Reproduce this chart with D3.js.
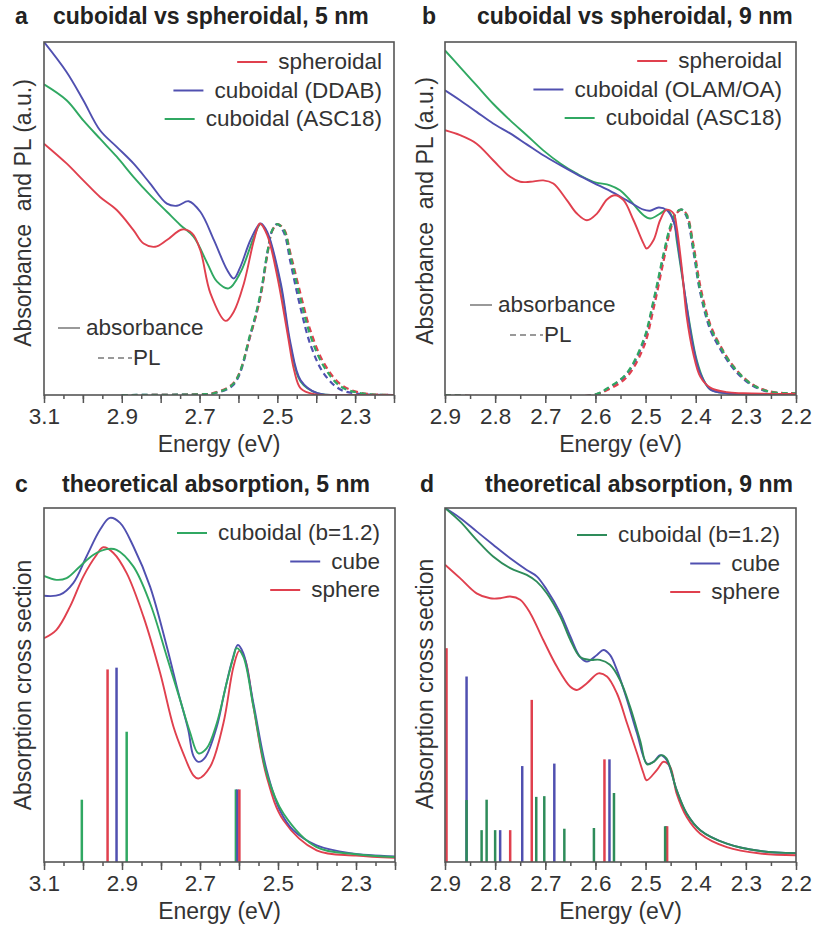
<!DOCTYPE html>
<html>
<head>
<meta charset="utf-8">
<script src="https://cdn.jsdelivr.net/npm/d3@7"></script>
<style>
  body { margin: 0; background: #fff; }
  svg { font-family: "Liberation Sans", Arial, sans-serif; }
</style>
</head>
<body>
<svg id="drawing_region" width="821" height="936"></svg>
<script>
// all series are [energy (eV), intensity (a.u., 0..1 of the frame)]

// ---- a : cuboidal vs spheroidal, 5 nm
const aAbsSpheroidal = [[3.100,0.712],[3.042,0.656],[2.999,0.608],[2.956,0.561],[2.913,0.524],[2.870,0.467],[2.844,0.429],[2.814,0.420],[2.784,0.439],[2.745,0.469],[2.719,0.458],[2.698,0.410],[2.672,0.288],[2.633,0.210],[2.612,0.236],[2.586,0.316],[2.560,0.439],[2.545,0.486],[2.526,0.453],[2.500,0.335],[2.474,0.175],[2.457,0.071],[2.440,0.019],[2.405,0.002],[2.300,0],[2.200,0]];
const aAbsDDAB = [[3.100,1.000],[3.042,0.915],[2.999,0.835],[2.956,0.750],[2.913,0.703],[2.870,0.656],[2.827,0.599],[2.784,0.542],[2.758,0.536],[2.728,0.549],[2.698,0.519],[2.663,0.439],[2.629,0.354],[2.612,0.330],[2.595,0.363],[2.569,0.439],[2.543,0.486],[2.526,0.462],[2.491,0.316],[2.466,0.146],[2.440,0.042],[2.397,0.005],[2.300,0],[2.200,0]];
const aAbsASC18 = [[3.100,0.880],[3.042,0.835],[2.999,0.778],[2.956,0.726],[2.913,0.675],[2.870,0.618],[2.827,0.566],[2.784,0.519],[2.749,0.481],[2.715,0.448],[2.680,0.373],[2.655,0.321],[2.625,0.302],[2.594,0.349],[2.560,0.448],[2.543,0.484],[2.526,0.458],[2.491,0.307],[2.466,0.137],[2.440,0.038],[2.397,0.005],[2.300,0],[2.200,0]];
const aPLSpheroidal = [[2.90,0],[2.70,0.002],[2.663,0.006],[2.612,0.035],[2.569,0.170],[2.543,0.280],[2.526,0.395],[2.513,0.465],[2.500,0.484],[2.483,0.470],[2.466,0.400],[2.440,0.285],[2.414,0.180],[2.380,0.090],[2.337,0.030],[2.285,0.006],[2.20,0]];
const aPLDDAB = [[2.90,0],[2.70,0.002],[2.663,0.005],[2.612,0.030],[2.569,0.170],[2.543,0.285],[2.526,0.400],[2.513,0.467],[2.500,0.484],[2.483,0.460],[2.466,0.375],[2.440,0.245],[2.414,0.140],[2.380,0.060],[2.337,0.015],[2.285,0.003],[2.20,0]];
const aPLASC18 = [[2.90,0],[2.70,0.002],[2.663,0.005],[2.612,0.033],[2.569,0.175],[2.543,0.288],[2.526,0.401],[2.513,0.467],[2.500,0.484],[2.483,0.467],[2.466,0.392],[2.440,0.269],[2.414,0.165],[2.380,0.080],[2.337,0.024],[2.285,0.005],[2.20,0]];
const aTickLabels = [3.1, 2.9, 2.7, 2.5, 2.3];

// ---- b : cuboidal vs spheroidal, 9 nm
const bAbsSpheroidal = [[2.900,0.750],[2.870,0.736],[2.837,0.712],[2.804,0.665],[2.770,0.618],[2.750,0.604],[2.730,0.604],[2.704,0.608],[2.684,0.599],[2.657,0.552],[2.637,0.514],[2.617,0.495],[2.597,0.514],[2.577,0.554],[2.561,0.566],[2.544,0.552],[2.524,0.495],[2.504,0.429],[2.498,0.415],[2.484,0.439],[2.471,0.495],[2.458,0.525],[2.444,0.514],[2.438,0.476],[2.428,0.363],[2.418,0.222],[2.405,0.118],[2.391,0.052],[2.371,0.021],[2.338,0.008],[2.305,0.005],[2.200,0.003]];
const bAbsOLAM = [[2.900,0.863],[2.870,0.835],[2.837,0.802],[2.804,0.769],[2.770,0.741],[2.737,0.710],[2.704,0.679],[2.670,0.651],[2.637,0.625],[2.604,0.601],[2.571,0.578],[2.538,0.552],[2.504,0.525],[2.491,0.522],[2.474,0.531],[2.458,0.524],[2.444,0.491],[2.431,0.382],[2.418,0.250],[2.405,0.137],[2.391,0.061],[2.371,0.016],[2.338,0.005],[2.270,0],[2.200,0]];
const bAbsASC18 = [[2.900,0.976],[2.870,0.929],[2.837,0.877],[2.804,0.825],[2.770,0.778],[2.737,0.736],[2.704,0.693],[2.670,0.656],[2.637,0.627],[2.604,0.604],[2.571,0.594],[2.551,0.580],[2.531,0.552],[2.504,0.509],[2.491,0.500],[2.471,0.514],[2.458,0.525],[2.444,0.495],[2.438,0.439],[2.424,0.307],[2.411,0.193],[2.398,0.099],[2.384,0.042],[2.371,0.016],[2.338,0.005],[2.270,0],[2.200,0]];
const bPLSpheroidal = [[2.90,0],[2.604,0],[2.571,0.018],[2.538,0.050],[2.504,0.135],[2.484,0.245],[2.464,0.380],[2.451,0.465],[2.438,0.515],[2.428,0.525],[2.418,0.512],[2.405,0.430],[2.391,0.310],[2.371,0.200],[2.351,0.140],[2.325,0.082],[2.291,0.034],[2.252,0.010],[2.20,0.005]];
const bPLOLAM = [[2.90,0],[2.604,0],[2.571,0.022],[2.538,0.058],[2.504,0.150],[2.484,0.262],[2.464,0.395],[2.451,0.472],[2.438,0.517],[2.428,0.525],[2.418,0.505],[2.405,0.410],[2.391,0.290],[2.371,0.185],[2.351,0.130],[2.325,0.075],[2.291,0.030],[2.252,0.008],[2.20,0.004]];
const bPLASC18 = [[2.90,0],[2.604,0],[2.571,0.024],[2.538,0.061],[2.504,0.156],[2.484,0.269],[2.464,0.401],[2.451,0.476],[2.438,0.519],[2.428,0.525],[2.418,0.509],[2.405,0.420],[2.391,0.297],[2.371,0.193],[2.351,0.137],[2.325,0.080],[2.291,0.033],[2.252,0.009],[2.20,0.005]];
const bTickLabels = [2.9, 2.8, 2.7, 2.6, 2.5, 2.4, 2.3, 2.2];

// ---- c : theoretical absorption, 5 nm
const cCuboidal = [[3.100,0.808],[3.068,0.797],[3.042,0.802],[3.008,0.835],[2.973,0.868],[2.939,0.884],[2.914,0.882],[2.871,0.835],[2.828,0.731],[2.785,0.580],[2.751,0.458],[2.726,0.368],[2.704,0.307],[2.683,0.321],[2.657,0.392],[2.631,0.509],[2.614,0.580],[2.606,0.604],[2.589,0.580],[2.563,0.439],[2.529,0.250],[2.486,0.137],[2.401,0.042],[2.300,0.022],[2.200,0.014]];
const cCube = [[3.100,0.752],[3.059,0.755],[3.025,0.788],[2.991,0.863],[2.956,0.939],[2.931,0.972],[2.905,0.958],[2.871,0.892],[2.828,0.778],[2.785,0.608],[2.755,0.476],[2.730,0.373],[2.717,0.300],[2.704,0.283],[2.687,0.295],[2.657,0.382],[2.638,0.476],[2.617,0.571],[2.603,0.613],[2.589,0.590],[2.563,0.448],[2.529,0.259],[2.495,0.146],[2.461,0.090],[2.401,0.047],[2.315,0.025],[2.200,0.016]];
const cSphere = [[3.100,0.632],[3.068,0.656],[3.033,0.722],[2.999,0.807],[2.965,0.868],[2.948,0.889],[2.922,0.873],[2.888,0.816],[2.845,0.693],[2.802,0.533],[2.768,0.382],[2.743,0.307],[2.717,0.245],[2.704,0.236],[2.674,0.269],[2.640,0.392],[2.614,0.552],[2.599,0.597],[2.584,0.571],[2.563,0.439],[2.529,0.241],[2.486,0.118],[2.401,0.033],[2.300,0.018],[2.200,0.012]];
const cSticksCuboidal = [[3.003,0.176],[2.888,0.368],[2.608,0.205]];
const cSticksCube = [[2.914,0.549],[2.604,0.205]];
const cSticksSphere = [[2.937,0.544],[2.599,0.205]];
const cTickLabels = [3.1, 2.9, 2.7, 2.5, 2.3];

// ---- d : theoretical absorption, 9 nm
const dCuboidal = [[2.900,1.000],[2.870,0.962],[2.837,0.910],[2.804,0.863],[2.770,0.830],[2.737,0.811],[2.717,0.792],[2.697,0.759],[2.670,0.693],[2.650,0.627],[2.631,0.580],[2.611,0.571],[2.591,0.571],[2.571,0.557],[2.551,0.514],[2.531,0.439],[2.511,0.344],[2.497,0.276],[2.484,0.283],[2.468,0.302],[2.458,0.292],[2.438,0.203],[2.418,0.137],[2.391,0.090],[2.338,0.052],[2.271,0.031],[2.200,0.025]];
const dCube = [[2.900,1.000],[2.870,0.972],[2.837,0.934],[2.804,0.896],[2.770,0.858],[2.737,0.825],[2.717,0.807],[2.697,0.769],[2.670,0.703],[2.650,0.637],[2.631,0.580],[2.617,0.566],[2.597,0.585],[2.584,0.599],[2.571,0.585],[2.557,0.542],[2.537,0.458],[2.517,0.363],[2.497,0.278],[2.484,0.283],[2.471,0.302],[2.458,0.288],[2.438,0.203],[2.418,0.137],[2.391,0.090],[2.338,0.052],[2.271,0.031],[2.200,0.025]];
const dSphere = [[2.900,0.840],[2.870,0.802],[2.837,0.759],[2.810,0.745],[2.790,0.745],[2.770,0.750],[2.750,0.741],[2.730,0.703],[2.704,0.627],[2.677,0.552],[2.650,0.495],[2.637,0.486],[2.617,0.505],[2.594,0.533],[2.577,0.524],[2.557,0.476],[2.537,0.392],[2.517,0.307],[2.504,0.250],[2.498,0.231],[2.478,0.259],[2.464,0.283],[2.451,0.269],[2.438,0.193],[2.418,0.127],[2.391,0.080],[2.338,0.042],[2.271,0.024],[2.200,0.019]];
const dSticksCuboidal = [[2.857,0.175],[2.827,0.090],[2.817,0.176],[2.800,0.090],[2.718,0.184],[2.702,0.186],[2.662,0.094],[2.603,0.096],[2.563,0.195],[2.461,0.101]];
const dSticksCube = [[2.857,0.524],[2.790,0.090],[2.746,0.271],[2.682,0.278],[2.572,0.290],[2.459,0.101]];
const dSticksSphere = [[2.897,0.604],[2.770,0.090],[2.727,0.458],[2.582,0.290],[2.457,0.101]];
const dTickLabels = [2.9, 2.8, 2.7, 2.6, 2.5, 2.4, 2.3, 2.2];

const RED = '#e0404e', BLUE = '#5050b0', GREEN = '#30a862', DKGREEN = '#2e8c5a';

class SpectrumPanel {

  constructor( config, data ) {
    this.config = config;
    this.data = data;
    this.init();
  }

  init(){
    let self = this;
    const c = self.config;

    self.svg = d3.select('#drawing_region');
    self.chart = self.svg.append('g')
        .attr('transform', `translate(${c.left}, ${c.top})`);

    self.inner_width = c.width;
    self.inner_height = c.height;

    self.xscale = d3.scaleLinear()
        .domain( c.xdomain )
        .range( [0, self.inner_width] );
    self.yscale = d3.scaleLinear()
        .domain( [0, 1] )
        .range( [self.inner_height, 0] );

    self.chart.append('clipPath').attr('id', c.id + '_clip')
      .append('rect')
        .attr('width', self.inner_width)
        .attr('height', self.inner_height);

    self.plot = self.chart.append('g')
        .attr('clip-path', `url(#${c.id}_clip)`);
  }

  render(){
    let self = this;
    const c = self.config;
    const fmt = d3.format('.1f');
    const labels = c.tickLabels.map(fmt);

    // ticks: minor every 0.05, major every 0.1, outward
    const lo = Math.min(...c.xdomain), hi = Math.max(...c.xdomain);
    const minor = d3.range(Math.round(lo * 20), Math.round(hi * 20) + 1).map(v => v / 20);
    const major = minor.filter(v => Math.abs(v * 10 - Math.round(v * 10)) < 1e-6);

    self.chart.append('g')
        .attr('transform', `translate(0, ${self.inner_height})`)
        .call( d3.axisBottom(self.xscale).tickValues(minor).tickSize(4).tickFormat('') )
        .call( g => g.select('.domain').remove() )
        .call( g => g.selectAll('line').attr('stroke', '#555').attr('stroke-width', 1.5) );

    self.chart.append('g')
        .attr('transform', `translate(0, ${self.inner_height})`)
        .call( d3.axisBottom(self.xscale).tickValues(major).tickSize(8).tickPadding(5)
            .tickFormat(d => labels.includes(fmt(d)) ? fmt(d) : '') )
        .call( g => g.select('.domain').remove() )
        .call( g => g.selectAll('line').attr('stroke', '#555').attr('stroke-width', 1.5) )
        .call( g => g.selectAll('text')
            .attr('font-size', 22.5).attr('fill', '#333')
            .style('font-family', '"Liberation Sans", Arial, sans-serif') );

    self.chart.append('text')
        .attr('x', self.inner_width / 2)
        .attr('y', self.inner_height + 57)
        .attr('text-anchor', 'middle')
        .attr('font-size', 23).attr('fill', '#333')
        .text('Energy (eV)');

    self.chart.append('text')
        .attr('transform', `translate(${c.ylabelX - c.left}, ${c.ylabelY - c.top}) rotate(-90)`)
        .attr('text-anchor', 'middle')
        .attr('font-size', 23).attr('fill', '#333')
        .style('white-space', 'pre')
        .text(c.ylabel);

    // panel letter and title
    self.svg.append('text')
        .attr('x', c.letterX).attr('y', c.titleY)
        .attr('font-size', 23).attr('font-weight', 'bold').attr('fill', '#222')
        .text(c.letter);
    self.svg.append('text')
        .attr('x', c.titleX).attr('y', c.titleY)
        .attr('font-size', 23).attr('font-weight', 'bold').attr('fill', '#222')
        .text(c.title);

    const line = d3.line()
        .x(d => self.xscale(d[0]))
        .y(d => self.yscale(d[1]))
        .curve(d3.curveCatmullRom.alpha(0.5));

    // stick spectra
    (self.data.sticks || []).forEach(s => {
      self.plot.selectAll(null)
        .data(s.values)
        .enter()
        .append('line')
          .attr('x1', d => self.xscale(d[0]))
          .attr('x2', d => self.xscale(d[0]))
          .attr('y1', self.yscale(0))
          .attr('y2', d => self.yscale(d[1]))
          .attr('stroke', s.color)
          .attr('stroke-width', 2.5);
    });

    self.plot.selectAll('path.curve')
        .data(self.data.curves)
        .enter()
        .append('path')
          .attr('class', 'curve')
          .attr('d', d => line(d.values))
          .attr('fill', 'none')
          .attr('stroke', d => d.color)
          .attr('stroke-width', d => d.dashed ? 2.2 : 1.9)
          .attr('stroke-dasharray', d => d.dashed ? '6,4' : null);

    // frame
    self.chart.append('rect')
        .attr('width', self.inner_width)
        .attr('height', self.inner_height)
        .attr('fill', 'none')
        .attr('stroke', '#555')
        .attr('stroke-width', 1.6);

    // colour legend (right aligned)
    c.legend.items.forEach((it, i) => {
      const y = c.legend.y - c.top + i * c.legend.step;
      const t = self.chart.append('text')
          .attr('x', c.legend.x - c.left)
          .attr('y', y + 7)
          .attr('text-anchor', 'end')
          .attr('font-size', 22.5).attr('fill', '#333')
          .text(it.label);
      const x0 = c.legend.x - c.left - t.node().getComputedTextLength() - 11;
      self.chart.append('line')
          .attr('x1', x0 - 30).attr('x2', x0)
          .attr('y1', y).attr('y2', y)
          .attr('stroke', it.color).attr('stroke-width', 2);
    });

    // line-style legend
    (c.styleLegend || []).forEach(it => {
      self.chart.append('line')
          .attr('x1', it.x1 - c.left).attr('x2', it.x2 - c.left)
          .attr('y1', it.y - c.top).attr('y2', it.y - c.top)
          .attr('stroke', '#999').attr('stroke-width', 2)
          .attr('stroke-dasharray', it.dashed ? '6,4' : null);
      self.chart.append('text')
          .attr('x', it.tx - c.left)
          .attr('y', it.y - c.top + 7)
          .attr('font-size', 22.5).attr('fill', '#333')
          .text(it.label);
    });
  }
}

const panels = [
  {
    config: {
      id: 'a', left: 44, top: 42, width: 350, height: 353, xdomain: [3.1, 2.2], tickLabels: aTickLabels,
      letter: 'a', letterX: 15, title: 'cuboidal vs spheroidal, 5 nm', titleX: 53, titleY: 24,
      ylabel: 'Absorbance  and PL (a.u.)', ylabelX: 31, ylabelY: 213,
      legend: { x: 382, y: 62, step: 28.5, items: [
        { label: 'spheroidal', color: RED },
        { label: 'cuboidal (DDAB)', color: BLUE },
        { label: 'cuboidal (ASC18)', color: GREEN } ] },
      styleLegend: [
        { label: 'absorbance', x1: 58, x2: 80, tx: 86, y: 328, dashed: false },
        { label: 'PL', x1: 98, x2: 132, tx: 133, y: 358, dashed: true } ]
    },
    data: { curves: [
      { values: aPLDDAB, color: BLUE, dashed: true },
      { values: aPLSpheroidal, color: RED, dashed: true },
      { values: aPLASC18, color: GREEN, dashed: true },
      { values: aAbsASC18, color: GREEN },
      { values: aAbsDDAB, color: BLUE },
      { values: aAbsSpheroidal, color: RED } ] }
  },
  {
    config: {
      id: 'b', left: 445, top: 42, width: 351, height: 353, xdomain: [2.9, 2.2], tickLabels: bTickLabels,
      letter: 'b', letterX: 422, title: 'cuboidal vs spheroidal, 9 nm', titleX: 477, titleY: 24,
      ylabel: 'Absorbance  and PL (a.u.)', ylabelX: 433, ylabelY: 211,
      legend: { x: 782, y: 61, step: 28.5, items: [
        { label: 'spheroidal', color: RED },
        { label: 'cuboidal (OLAM/OA)', color: BLUE },
        { label: 'cuboidal (ASC18)', color: GREEN } ] },
      styleLegend: [
        { label: 'absorbance', x1: 470, x2: 492, tx: 498, y: 305, dashed: false },
        { label: 'PL', x1: 510, x2: 543, tx: 544, y: 335, dashed: true } ]
    },
    data: { curves: [
      { values: bPLOLAM, color: BLUE, dashed: true },
      { values: bPLSpheroidal, color: RED, dashed: true },
      { values: bPLASC18, color: GREEN, dashed: true },
      { values: bAbsASC18, color: GREEN },
      { values: bAbsOLAM, color: BLUE },
      { values: bAbsSpheroidal, color: RED } ] }
  },
  {
    config: {
      id: 'c', left: 44, top: 508, width: 351, height: 354, xdomain: [3.1, 2.2], tickLabels: cTickLabels,
      letter: 'c', letterX: 15, title: 'theoretical absorption, 5 nm', titleX: 62, titleY: 492,
      ylabel: 'Absorption cross section', ylabelX: 31, ylabelY: 685,
      legend: { x: 380, y: 533, step: 28.5, items: [
        { label: 'cuboidal (b=1.2)', color: GREEN },
        { label: 'cube', color: BLUE },
        { label: 'sphere', color: RED } ] }
    },
    data: {
      sticks: [
        { values: cSticksCuboidal, color: GREEN },
        { values: cSticksCube, color: BLUE },
        { values: cSticksSphere, color: RED } ],
      curves: [
        { values: cSphere, color: RED },
        { values: cCube, color: BLUE },
        { values: cCuboidal, color: GREEN } ] }
  },
  {
    config: {
      id: 'd', left: 445, top: 508, width: 351, height: 354, xdomain: [2.9, 2.2], tickLabels: dTickLabels,
      letter: 'd', letterX: 420, title: 'theoretical absorption, 9 nm', titleX: 485, titleY: 492,
      ylabel: 'Absorption cross section', ylabelX: 433, ylabelY: 684,
      legend: { x: 780, y: 535, step: 28.5, items: [
        { label: 'cuboidal (b=1.2)', color: DKGREEN },
        { label: 'cube', color: BLUE },
        { label: 'sphere', color: RED } ] }
    },
    data: {
      sticks: [
        { values: dSticksCube, color: BLUE },
        { values: dSticksSphere, color: RED },
        { values: dSticksCuboidal, color: DKGREEN } ],
      curves: [
        { values: dSphere, color: RED },
        { values: dCube, color: BLUE },
        { values: dCuboidal, color: DKGREEN } ] }
  }
];

panels.forEach(p => {
  const panel = new SpectrumPanel( p.config, p.data );
  panel.render();
});
</script>
</body>
</html>
